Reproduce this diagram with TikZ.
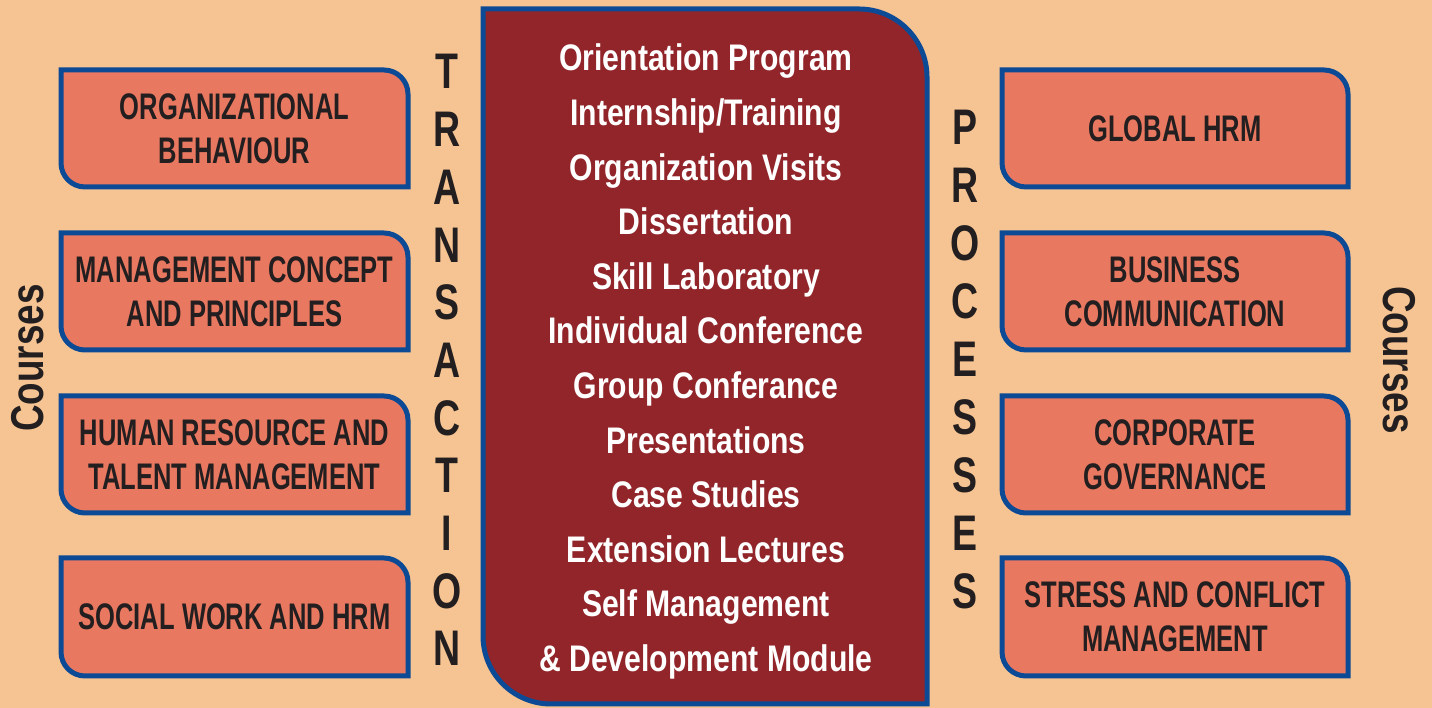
\documentclass[tikz,border=0pt]{standalone}
\usepackage{fontspec}
\setmainfont{Liberation Sans}
\newfontfamily\capsfont{Liberation Sans}[FakeStretch=0.69]
\newfontfamily\listfont{Liberation Sans}[FakeStretch=0.815]
\newfontfamily\sidefont{Liberation Sans}[FakeStretch=0.75]
\newfontfamily\coursefont{Liberation Sans}[FakeStretch=0.8]
\definecolor{peach}{HTML}{F6C492}
\definecolor{salmon}{HTML}{E97860}
\definecolor{frameblue}{HTML}{0D4A95}
\definecolor{maroon}{HTML}{91252A}
\definecolor{ink}{HTML}{231F20}

% box with rounded top-right and bottom-left corners
% #1 left, #2 top, #3 right, #4 bottom (pixel rows, measured from the top), #5 radius, #6 fill
\newcommand{\leafbox}[6]{%
  \filldraw[fill=#6, draw=frameblue, line width=5pt, line join=miter]
    (#1,708-#2) -- ({#3-#5},708-#2)
    arc[start angle=90, end angle=0, radius=#5]
    -- (#3,708-#4) -- ({#1+#5},708-#4)
    arc[start angle=270, end angle=180, radius=#5]
    -- cycle;}

\tikzset{
  boxtext/.style={text=ink, align=center,
    font=\capsfont\bfseries\fontsize{37}{44}\selectfont},
  listtext/.style={text=white, anchor=base,
    font=\listfont\bfseries\fontsize{37}{44}\selectfont},
  sidetext/.style={text=ink, anchor=base,
    font=\sidefont\bfseries\fontsize{50}{56}\selectfont},
  coursetext/.style={text=ink,
    font=\coursefont\bfseries\fontsize{46}{50}\selectfont},
}

\begin{document}
\begin{tikzpicture}[x=1pt,y=1pt]
\useasboundingbox (0,0) rectangle (1432,708);
\fill[peach] (0,0) rectangle (1432,708);

% central programme panel
\leafbox{483}{9}{927}{704}{68}{maroon}

% course boxes, left column
\leafbox{61}{70}{408}{187}{24}{salmon}
\leafbox{61}{233}{408}{350}{24}{salmon}
\leafbox{61}{396}{408}{513}{24}{salmon}
\leafbox{61}{558}{408}{676}{24}{salmon}
% course boxes, right column
\leafbox{1002}{70}{1348}{187}{24}{salmon}
\leafbox{1002}{233}{1348}{350}{24}{salmon}
\leafbox{1002}{396}{1348}{513}{24}{salmon}
\leafbox{1002}{558}{1348}{676}{24}{salmon}

\node[boxtext] (ob) at (234.5,708-128.5) {ORGANIZATIONAL\\BEHAVIOUR};
\node[boxtext] (mc) at (234.5,708-291.5) {MANAGEMENT CONCEPT\\AND PRINCIPLES};
\node[boxtext] (hr) at (234.5,708-454.5) {HUMAN RESOURCE AND\\TALENT MANAGEMENT};
\node[boxtext] (sw) at (234.5,708-617) {SOCIAL WORK AND HRM};

\node[boxtext] (gh) at (1175,708-128.5) {GLOBAL HRM};
\node[boxtext] (bc) at (1175,708-291.5) {BUSINESS\\COMMUNICATION};
\node[boxtext] (cg) at (1175,708-454.5) {CORPORATE\\GOVERNANCE};
\node[boxtext] (sc) at (1175,708-617) {STRESS AND CONFLICT\\MANAGEMENT};

% programme list
\foreach \t [count=\i from 0] in {Orientation Program, Internship/Training,
    Organization Visits, Dissertation, Skill Laboratory, Individual Conference,
    Group Conferance, Presentations, Case Studies, Extension Lectures,
    Self Management, \& Development Module}
  \node[listtext] (item\i) at (706,{708-71-54.6*\i}) {\t};

% vertical captions
\foreach \c [count=\i from 0] in {T,R,A,N,S,A,C,T,I,O,N}
  \node[sidetext] (tr\i) at (447,{708-89-57.7*\i}) {\c};
\foreach \c [count=\i from 0] in {P,R,O,C,E,S,S,E,S}
  \node[sidetext] (pr\i) at (965,{708-145-57.9*\i}) {\c};

\node[coursetext, rotate=90] (cl) at (28,708-358) {Courses};
\node[coursetext, rotate=-90] (cr) at (1399,708-360) {Courses};
\end{tikzpicture}
\end{document}
